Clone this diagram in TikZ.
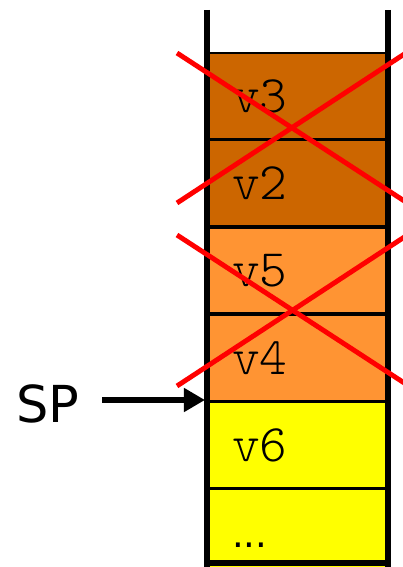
\documentclass[tikz,border=0pt]{standalone}
\usepackage{fontspec}
\newfontfamily\labelfont{DejaVu Sans}
\newfontfamily\valuefont{Latin Modern Mono Light}
\usepackage{xcolor}
\definecolor{freedDark}{RGB}{204, 102, 0}
\definecolor{freedLight}{RGB}{255, 148, 51}
\definecolor{liveYellow}{RGB}{255, 255, 0}
\usepackage{tikz}
\usetikzlibrary{arrows.meta, positioning}

\begin{document}
\begin{tikzpicture}[x=0.02cm, y=-0.02cm,
    cell/.style={
        rectangle, draw=black, line width=1pt, inner xsep=0.5cm, inner ysep=0pt,
        text width=2.62cm, minimum height=1.71cm, align=left,
        font=\fontsize{30}{30}\selectfont\valuefont
    },
    wall/.style={line width=3pt, black},
    cross/.style={line width=2.8pt, red},
    arr/.style={-{Triangle[length=12pt, width=13pt]}, line width=3.5pt, black}
]
\useasboundingbox (0,0) rectangle (402,567);

\node[cell, fill=freedDark] (v3) at (297.5,96) {v3};
\node[cell, fill=freedDark, below=0pt of v3] (v2) {v2};
\node[cell, fill=freedLight, below=0pt of v2] (v5) {v5};
\node[cell, fill=freedLight, below=0pt of v5] (v4) {v4};
\node[cell, fill=liveYellow, below=0pt of v4] (v6) {v6};
\node[cell, fill=liveYellow, below=0pt of v6, minimum height=1.62cm,
      font=\fontsize{21}{21}\selectfont\labelfont] (rest) {\vphantom{0}\raisebox{-4pt}{...}};

% stack walls
\draw[wall] (207,10) -- (207,567);
\draw[wall] (388,10) -- (388,567);
\draw[wall] (207,563) -- (388,563);

% popped values
\draw[cross] (177,53) -- (412,206);
\draw[cross] (177,203) -- (412,49);
\draw[cross] (177,235) -- (412,388);
\draw[cross] (177,386) -- (412,232);

\node[font=\fontsize{29}{29}\selectfont\labelfont, inner sep=0pt] (sp) at (48,404) {SP};
\coordinate (sptip) at (205,400);
\draw[arr] (102,400) -- (sptip);

\end{tikzpicture}
\end{document}
